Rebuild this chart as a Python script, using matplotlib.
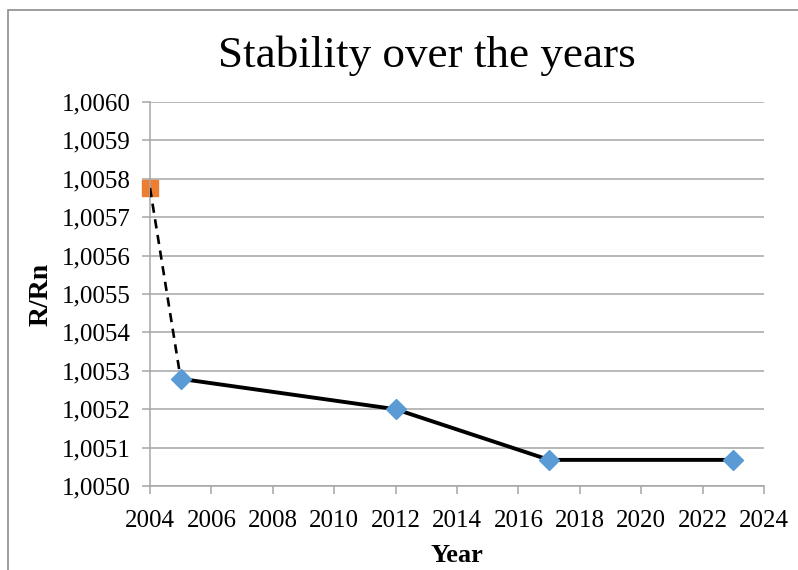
import matplotlib
matplotlib.use("Agg")
import matplotlib.pyplot as plt
from matplotlib.ticker import FuncFormatter, MultipleLocator
from matplotlib.patches import Rectangle

# reference measurement (2004) and the later checks
ref_year = [2004]
ref_value = [1.005776]
years = [2005, 2012, 2017, 2023]
values = [1.005279, 1.005200, 1.005068, 1.005068]

plt.rcParams['font.family'] = ['Liberation Serif', 'DejaVu Serif']

fig = plt.figure(figsize=(7.98, 5.70), dpi=100)
ax = fig.add_axes([150 / 798, 84 / 570, 614 / 798, 384 / 570])

# outer chart border
fig.patches.append(Rectangle((8 / 798, -0.05), 1.2, (570 - 10) / 570 + 0.05,
                             transform=fig.transFigure, fill=False,
                             edgecolor='#8c8c8c', linewidth=1.2))

# dashed link from the reference point to the first check
ax.plot([ref_year[0], years[0]], [ref_value[0], values[0]],
        color='black', linestyle=(0, (3.5, 2.5)), linewidth=1.9, zorder=3)
ax.plot(years, values, color='black', linewidth=2.8, zorder=3)
ax.plot(years, values, linestyle='none', marker='D', markersize=10,
        color='#5B9BD5', zorder=4, clip_on=False)
ax.plot(ref_year, ref_value, linestyle='none', marker='s', markersize=12,
        color='#ED7D31', zorder=2, clip_on=False)

ax.set_xlim(2004, 2024)
ax.set_ylim(1.0050, 1.0060)
ax.xaxis.set_major_locator(MultipleLocator(2))
ax.yaxis.set_major_locator(MultipleLocator(0.0001))
ax.yaxis.set_major_formatter(FuncFormatter(lambda v, p: f"{v:.4f}".replace('.', ',')))

ax.grid(axis='y', color='#a6a6a6', linewidth=1.1)
ax.set_axisbelow(True)
for s in ['top', 'right']:
    ax.spines[s].set_visible(False)
for s in ['left', 'bottom']:
    ax.spines[s].set_color('#a6a6a6')
    ax.spines[s].set_linewidth(1.1)
ax.tick_params(axis='both', colors='#a6a6a6', labelcolor='black',
               labelsize=18, length=6, width=1.1, direction='out')
ax.tick_params(axis='y', pad=8)
ax.tick_params(axis='x', pad=11)

ax.set_xlabel("Year", fontsize=19, fontweight='bold', labelpad=9)
ax.set_ylabel("R/Rn", fontsize=20, fontweight='bold', labelpad=6)
fig.text(0.535, 0.902, "Stability over the years", fontsize=32.5,
         ha='center', va='center')

fig.savefig("out.png", dpi=100)
